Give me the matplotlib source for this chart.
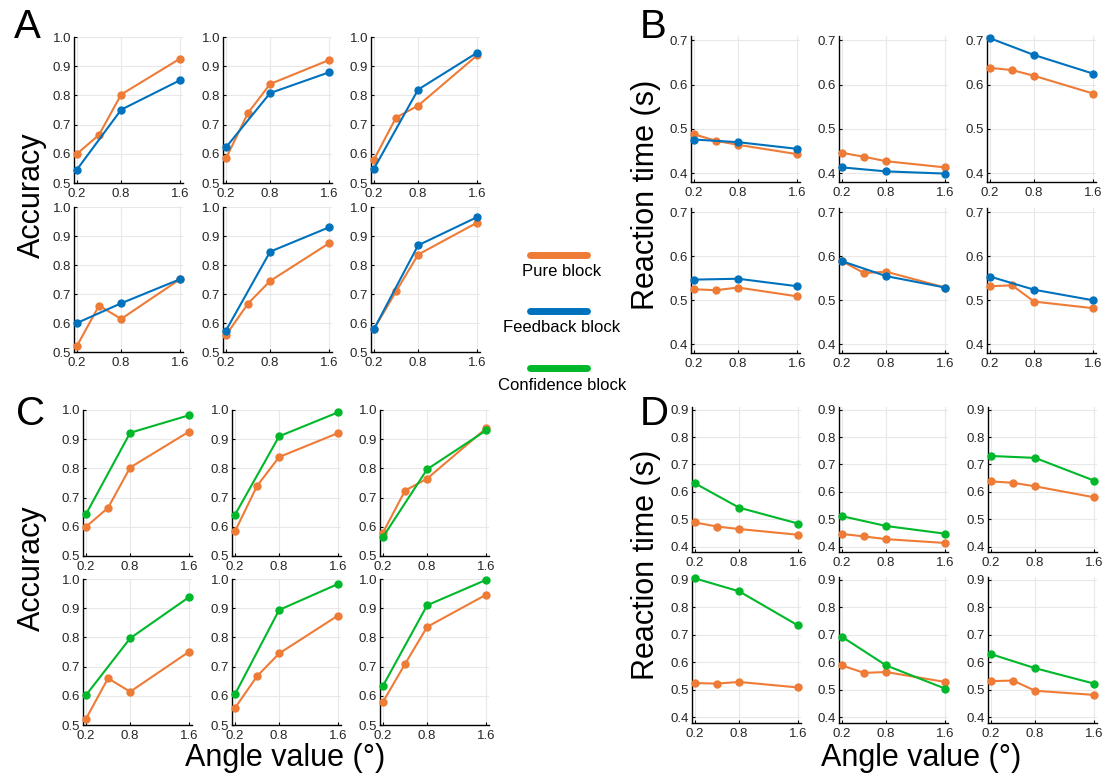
import numpy as np
import matplotlib.pyplot as plt
from matplotlib.lines import Line2D

plt.rcParams['font.family'] = ['Liberation Sans', 'DejaVu Sans']

W, H = 1106, 779

# angle values (deg)
x_pure = [0.2, 0.5, 0.8, 1.6]
x_other = [0.2, 0.8, 1.6]
xticks = [0.2, 0.8, 1.6]

# accuracy, pure block (6 subjects)
acc_pure = [
    [0.600, 0.665, 0.803, 0.926],
    [0.584, 0.740, 0.839, 0.921],
    [0.580, 0.724, 0.765, 0.937],
    [0.521, 0.660, 0.614, 0.751],
    [0.558, 0.667, 0.745, 0.875],
    [0.579, 0.709, 0.836, 0.946],
]
# accuracy, feedback block
acc_feedback = [
    [0.546, 0.751, 0.852],
    [0.622, 0.808, 0.879],
    [0.549, 0.820, 0.946],
    [0.600, 0.668, 0.751],
    [0.574, 0.846, 0.930],
    [0.579, 0.868, 0.965],
]
# accuracy, confidence block
acc_conf = [
    [0.643, 0.922, 0.982],
    [0.641, 0.910, 0.992],
    [0.565, 0.797, 0.930],
    [0.602, 0.797, 0.938],
    [0.605, 0.894, 0.983],
    [0.634, 0.910, 0.997],
]
# reaction time (s), pure block
rt_pure = [
    [0.488, 0.473, 0.464, 0.443],
    [0.446, 0.437, 0.427, 0.413],
    [0.638, 0.633, 0.620, 0.580],
    [0.525, 0.523, 0.529, 0.509],
    [0.589, 0.562, 0.565, 0.529],
    [0.532, 0.534, 0.497, 0.482],
]
# reaction time (s), feedback block
rt_feedback = [
    [0.476, 0.470, 0.455],
    [0.413, 0.404, 0.399],
    [0.705, 0.667, 0.625],
    [0.547, 0.549, 0.532],
    [0.589, 0.555, 0.529],
    [0.554, 0.524, 0.500],
]
# reaction time (s), confidence block
rt_conf = [
    [0.631, 0.542, 0.484],
    [0.511, 0.475, 0.447],
    [0.731, 0.724, 0.641],
    [0.905, 0.858, 0.734],
    [0.693, 0.589, 0.505],
    [0.630, 0.579, 0.523],
]

c_pure = '#EE7B36'
c_fb = '#0072BD'
c_conf = '#00B82A'

fig = plt.figure(figsize=(W / 100, H / 100), dpi=100)


def px_axes(left, top, right, bottom):
    return fig.add_axes([left / W, 1 - bottom / H, (right - left) / W, (bottom - top) / H])


def style(ax, ylim, yticks):
    ax.set_xlim(0.16, 1.64)
    ax.set_ylim(*ylim)
    ax.set_xticks(xticks)
    ax.set_xticklabels(['0.2', '0.8', '1.6'])
    ax.set_yticks(yticks)
    ax.set_yticklabels(['%.1f' % v for v in yticks])
    for s in ['top', 'right']:
        ax.spines[s].set_visible(False)
    for s in ['left', 'bottom']:
        ax.spines[s].set_linewidth(1.0)
        ax.spines[s].set_color('black')
    ax.tick_params(direction='in', length=2.5, width=0.8, labelsize=9.5,
                   labelcolor='#262626')
    ax.tick_params(axis='x', pad=3.5)
    ax.tick_params(axis='y', pad=2)
    ax.grid(True, color='#e8e8e8', linewidth=0.8)
    ax.set_axisbelow(True)


def draw_panel(lefts, tops, bottoms, width, pure, other, c_other, ylim, yticks):
    for k in range(6):
        r, c = divmod(k, 3)
        ax = px_axes(lefts[c], tops[r], lefts[c] + width, bottoms[r])
        style(ax, ylim, yticks)
        ax.plot(x_pure, pure[k], '-o', color=c_pure, lw=1.5, ms=5, clip_on=False, zorder=3)
        ax.plot(x_other, other[k], '-o', color=c_other, lw=1.5, ms=5, clip_on=False, zorder=4)


acc_ticks = [0.5, 0.6, 0.7, 0.8, 0.9, 1.0]
draw_panel([74, 223, 371], [37, 207], [183, 352], 109,
           acc_pure, acc_feedback, c_fb, (0.5, 1.0), acc_ticks)
draw_panel([691, 839, 987], [36, 208], [182, 353], 109,
           rt_pure, rt_feedback, c_fb, (0.38, 0.71), [0.4, 0.5, 0.6, 0.7])
draw_panel([83, 232, 380], [410, 579], [556, 725], 109,
           acc_pure, acc_conf, c_conf, (0.5, 1.0), acc_ticks)
draw_panel([692, 839, 988], [407, 577], [552, 723], 109,
           rt_pure, rt_conf, c_conf, (0.38, 0.91), [0.4, 0.5, 0.6, 0.7, 0.8, 0.9])

# panel letters
for lab, (x, y) in zip('ABCD', [(14, 8), (640, 8), (16, 395), (640, 395)]):
    fig.text(x / W, 1 - y / H, lab, fontsize=29, ha='left', va='top')

# axis labels
big = 22
fig.text(32 / W, 1 - 195 / H, 'Accuracy', rotation=90, fontsize=big, ha='center', va='center')
fig.text(32 / W, 1 - 568 / H, 'Accuracy', rotation=90, fontsize=big, ha='center', va='center')
fig.text(646 / W, 1 - 195 / H, 'Reaction time (s)', rotation=90, fontsize=big, ha='center', va='center')
fig.text(646 / W, 1 - 565 / H, 'Reaction time (s)', rotation=90, fontsize=big, ha='center', va='center')
fig.text(285 / W, 1 - 758 / H, 'Angle value (°)', fontsize=big, ha='center', va='center')
fig.text(921 / W, 1 - 758 / H, 'Angle value (°)', fontsize=big, ha='center', va='center')

# legend
leg_names = ['Pure block', 'Feedback block', 'Confidence block']
leg_colors = [c_pure, c_fb, c_conf]
leg_y = [255, 311, 368]
for name, col, y in zip(leg_names, leg_colors, leg_y):
    fig.add_artist(Line2D([530 / W, 587 / W], [1 - y / H, 1 - y / H], color=col,
                          lw=5, solid_capstyle='round'))
    fig.text(562 / W, 1 - (y + 17) / H, name, fontsize=12, ha='center', va='center')

fig.savefig('out.png', dpi=100)
